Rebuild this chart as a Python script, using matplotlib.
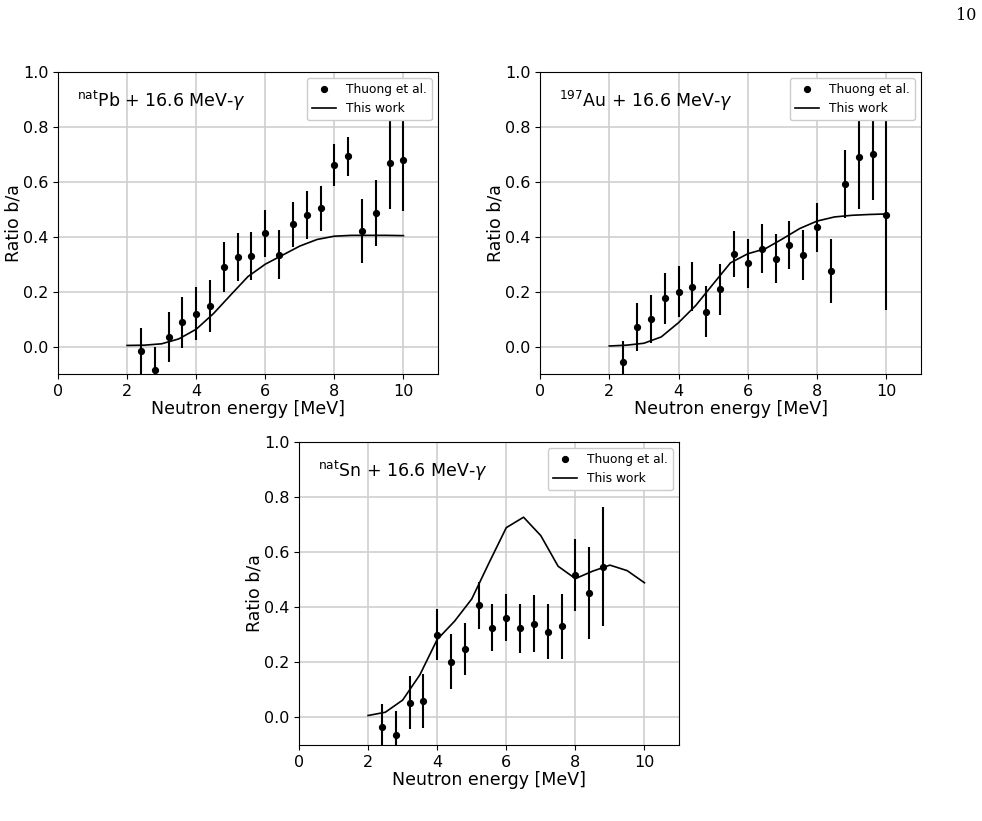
import numpy as np
import matplotlib
matplotlib.use("Agg")
import matplotlib.pyplot as plt

# ---------------- data ----------------
x_exp = [2.4, 2.8, 3.2, 3.6, 4.0, 4.4, 4.8, 5.2, 5.6, 6.0,
         6.4, 6.8, 7.2, 7.6, 8.0, 8.4, 8.8, 9.2, 9.6, 10.0]
x_exp_sn = x_exp[:17]
x_calc = [2.0, 2.5, 3.0, 3.5, 4.0, 4.5, 5.0, 5.5, 6.0,
          6.5, 7.0, 7.5, 8.0, 8.5, 9.0, 9.5, 10.0]

pb_exp = [-0.018, -0.085, 0.035, 0.089, 0.120, 0.148, 0.290, 0.326, 0.330, 0.412,
          0.335, 0.446, 0.479, 0.503, 0.660, 0.693, 0.421, 0.486, 0.669, 0.681]
pb_err = [0.085, 0.085, 0.090, 0.093, 0.096, 0.094, 0.090, 0.088, 0.089, 0.085,
          0.088, 0.082, 0.086, 0.082, 0.076, 0.070, 0.115, 0.120, 0.169, 0.189]
pb_calc = [0.004, 0.005, 0.010, 0.028, 0.063, 0.120, 0.188, 0.255, 0.300,
           0.333, 0.366, 0.390, 0.402, 0.405, 0.405, 0.405, 0.404]

au_exp = [-0.058, 0.071, 0.100, 0.175, 0.200, 0.218, 0.126, 0.208, 0.337, 0.303,
          0.357, 0.320, 0.370, 0.333, 0.434, 0.274, 0.592, 0.692, 0.703, 0.479]
au_err = [0.080, 0.087, 0.088, 0.094, 0.092, 0.089, 0.093, 0.092, 0.084, 0.088,
          0.089, 0.089, 0.088, 0.090, 0.090, 0.116, 0.125, 0.190, 0.170, 0.346]
au_calc = [0.002, 0.005, 0.012, 0.035, 0.087, 0.150, 0.228, 0.305, 0.338,
           0.356, 0.392, 0.430, 0.457, 0.472, 0.478, 0.481, 0.483]

sn_exp = [-0.036, -0.065, 0.053, 0.058, 0.301, 0.202, 0.249, 0.407, 0.326, 0.362,
          0.323, 0.340, 0.311, 0.331, 0.518, 0.452, 0.548]
sn_err = [0.086, 0.090, 0.096, 0.098, 0.093, 0.100, 0.095, 0.086, 0.086, 0.086,
          0.089, 0.103, 0.100, 0.118, 0.131, 0.166, 0.215]
sn_calc = [0.007, 0.019, 0.063, 0.155, 0.283, 0.349, 0.430, 0.561, 0.689,
           0.727, 0.660, 0.549, 0.504, 0.531, 0.553, 0.533, 0.489]

titles = [r"$^{\rm nat}$Pb + 16.6 MeV-$\gamma$",
          r"$^{197}$Au + 16.6 MeV-$\gamma$",
          r"$^{\rm nat}$Sn + 16.6 MeV-$\gamma$"]
xticks = [0, 2, 4, 6, 8, 10]
yticks = [0.0, 0.2, 0.4, 0.6, 0.8, 1.0]

# ---------------- figure ----------------
fig = plt.figure(figsize=(9.82, 8.21), dpi=100)
W, H = 982, 821
boxes = [(58, 72, 380, 302), (540, 72, 381, 302), (299, 442, 380, 303)]

datasets = [(x_exp, pb_exp, pb_err, pb_calc),
            (x_exp, au_exp, au_err, au_calc),
            (x_exp_sn, sn_exp, sn_err, sn_calc)]

for (l, t, w, h), (xe, ye, ee, yc), title in zip(boxes, datasets, titles):
    ax = fig.add_axes([l / W, 1 - (t + h) / H, w / W, h / H])
    ax.errorbar(xe, ye, yerr=ee, fmt='none', ecolor='black', elinewidth=1.5, zorder=3)
    ax.plot(xe, ye, 'o', color='black', markersize=4.2, label='Thuong et al.', zorder=4)
    ax.plot(x_calc, yc, '-', color='black', linewidth=1.2, label='This work', zorder=3)
    ax.set_xlim(0, 11)
    ax.set_ylim(-0.1, 1.0)
    ax.set_xticks(xticks)
    ax.set_yticks(yticks)
    ax.grid(True, color='#cfcfcf', linewidth=1.2)
    ax.set_axisbelow(True)
    ax.tick_params(labelsize=11.5)
    ax.set_xlabel("Neutron energy [MeV]", fontsize=12.5, labelpad=1)
    ax.set_ylabel("Ratio b/a", fontsize=12.5, labelpad=0)
    ax.text(0.05, 0.905, title, transform=ax.transAxes, fontsize=12.5,
            ha='left', va='center')
    leg = ax.legend(loc='upper right', fontsize=8.8, framealpha=1.0,
                    handlelength=2.0)
    leg.set_zorder(10)

fig.text(966 / W, 1 - 16 / H, "10", family='DejaVu Serif', fontsize=11.5,
         ha='center', va='center')

fig.savefig("out.png", dpi=100)
